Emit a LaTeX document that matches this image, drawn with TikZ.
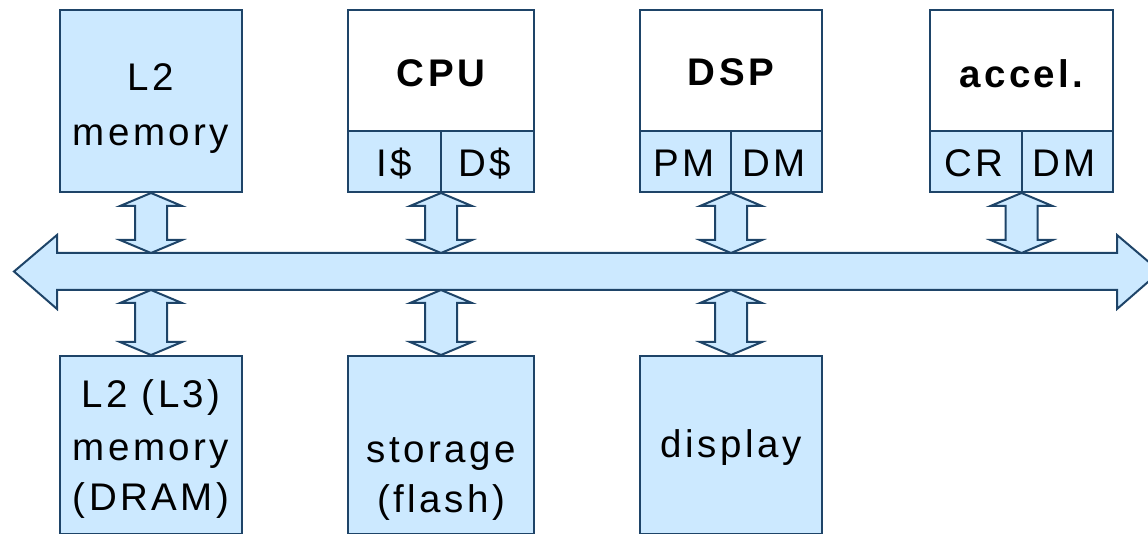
\documentclass[tikz,border=0pt]{standalone}
\usepackage{fontspec}
\setmainfont{Liberation Sans}[LetterSpace=9]
\usetikzlibrary{calc}

\definecolor{boxfill}{RGB}{204,233,255}
\definecolor{boxline}{RGB}{30,68,104}

\newcommand\lblfont{\fontsize{38.5pt}{44pt}\selectfont}

% double-headed block arrow between an upper point #1 and a lower point #2
\newcommand\linkarrow[2]{%
  \draw[link] let \p1=(#1), \p2=(#2) in
    (\x1,\y1) -- (\x1+31pt,\y1-13pt) -- (\x1+16pt,\y1-13pt)
    -- (\x1+16pt,\y2+13pt) -- (\x1+31pt,\y2+13pt) -- (\x1,\y2)
    -- (\x1-31pt,\y2+13pt) -- (\x1-16pt,\y2+13pt)
    -- (\x1-16pt,\y1-13pt) -- (\x1-31pt,\y1-13pt) -- cycle;}

\begin{document}
\begin{tikzpicture}[x=1pt,y=-1pt,
  box/.style={draw=boxline, line width=2pt, fill=boxfill, inner sep=0pt},
  unit/.style={box, fill=white},
  link/.style={draw=boxline, line width=2pt, fill=boxfill, line join=miter},
  txt/.style={inner sep=0pt, anchor=base, font=\lblfont, text=black},
  title/.style={txt, font=\lblfont\bfseries}]

\useasboundingbox (0,0) rectangle (1148,534);
\clip (0,0) rectangle (1148,534);

% system bus
\coordinate (busN) at (0,253);
\coordinate (busS) at (0,290);
\draw[link] (14,271.5) -- (57,235) -- (57,253) -- (1117,253) -- (1117,235)
  -- (1160,271.5) -- (1117,309) -- (1117,290) -- (57,290) -- (57,309) -- cycle;

% upper row
\node[box, minimum width=182pt, minimum height=182pt] (l2) at (151,101) {};
\node[txt] (l2a) at (151,91) {L2};
\node[txt] (l2b) at (151,146) {memory};

\node[unit, minimum width=186pt, minimum height=182pt] (cpu) at (441,101) {};
\node[box, minimum width=93pt, minimum height=61pt] (cpuI) at (394.5,161.5) {};
\node[box, minimum width=93pt, minimum height=61pt] (cpuD) at (487.5,161.5) {};
\node[title] (cput) at (441,87) {CPU};
\node[txt] (cpuIt) at (394.5,177) {I\$};
\node[txt] (cpuDt) at (485,177) {D\$};

\node[unit, minimum width=182pt, minimum height=182pt] (dsp) at (731,101) {};
\node[box, minimum width=91pt, minimum height=61pt] (dspP) at (685.5,161.5) {};
\node[box, minimum width=91pt, minimum height=61pt] (dspD) at (776.5,161.5) {};
\node[title] (dspt) at (731,86) {DSP};
\node[txt] (dspPt) at (684,177) {PM};
\node[txt] (dspDt) at (774,177) {DM};

\node[unit, minimum width=183pt, minimum height=182pt] (acc) at (1021.5,101) {};
\node[box, minimum width=92pt, minimum height=61pt] (accC) at (976,161.5) {};
\node[box, minimum width=91pt, minimum height=61pt] (accD) at (1067.5,161.5) {};
\node[title] (acct) at (1021.5,88) {accel.};
\node[txt] (accCt) at (974,177) {CR};
\node[txt] (accDt) at (1064,177) {DM};

% lower row
\node[box, minimum width=182pt, minimum height=178pt] (dram) at (151,445) {};
\node[txt] (drama) at (151,407) {L2 (L3)};
\node[txt] (dramb) at (151,460) {memory};
\node[txt] (dramc) at (151,510) {(DRAM)};

\node[box, minimum width=186pt, minimum height=178pt] (flash) at (441,445) {};
\node[txt] (flasha) at (441,462) {storage};
\node[txt] (flashb) at (441,512) {(flash)};

\node[box, minimum width=182pt, minimum height=178pt] (disp) at (731,445) {};
\node[txt] (dispa) at (731,457) {display};

% bus connections
\linkarrow{l2.south}{l2.south |- busN}
\linkarrow{cpu.south}{cpu.south |- busN}
\linkarrow{dsp.south}{dsp.south |- busN}
\linkarrow{acc.south}{acc.south |- busN}
\linkarrow{dram.north |- busS}{dram.north}
\linkarrow{flash.north |- busS}{flash.north}
\linkarrow{disp.north |- busS}{disp.north}

\end{tikzpicture}
\end{document}
